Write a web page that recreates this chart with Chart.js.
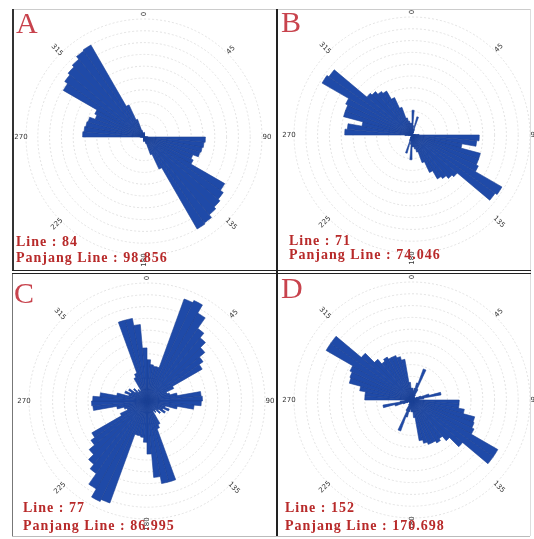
<!DOCTYPE html>
<html>
<head>
<meta charset="utf-8">
<script src="https://cdn.jsdelivr.net/npm/chart.js@4/dist/chart.umd.min.js"></script>
<style>
  html, body { margin: 0; padding: 0; background: #fff; overflow: hidden; }
  #page { position: relative; width: 534px; height: 539px; overflow: hidden; }
  canvas { position: absolute; }
  .line { position: absolute; }
  .letter { position: absolute; font-family: "Liberation Serif", serif; font-size: 30px; line-height: 30px; color: #c8434d; }
  .info { position: absolute; font-family: "Liberation Serif", serif; font-weight: bold; font-size: 14px; line-height: 14px; letter-spacing: 1px; color: #b82a2a; white-space: nowrap; }
</style>
</head>
<body>
<div id="page">
  <canvas id="roseA" width="270" height="270" style="left:9px;top:2px"></canvas>
  <canvas id="roseB" width="270" height="270" style="left:277px;top:0px"></canvas>
  <canvas id="roseC" width="270" height="270" style="left:12px;top:266px"></canvas>
  <canvas id="roseD" width="270" height="270" style="left:277px;top:265px"></canvas>

  <!-- frame -->
  <div class="line" style="left:12px;top:9px;width:518px;height:1px;background:#ccc"></div>
  <div class="line" style="left:530px;top:9px;width:1px;height:527px;background:#ddd"></div>
  <div class="line" style="left:12px;top:536px;width:518px;height:1px;background:#bbb"></div>
  <div class="line" style="left:12px;top:9px;width:2px;height:262px;background:#333"></div>
  <div class="line" style="left:12px;top:273px;width:1px;height:263px;background:#777"></div>
  <div class="line" style="left:276px;top:9px;width:2px;height:527px;background:#222"></div>
  <div class="line" style="left:12px;top:270px;width:519px;height:1px;background:#222"></div>
  <div class="line" style="left:12px;top:273px;width:519px;height:1px;background:#222"></div>

  <div class="letter" style="left:16px;top:8px">A</div>
  <div class="letter" style="left:281px;top:7px">B</div>
  <div class="letter" style="left:14px;top:278px">C</div>
  <div class="letter" style="left:281px;top:273px">D</div>

  <div class="info" style="left:16px;top:235px">Line : 84</div>
  <div class="info" style="left:16px;top:251px">Panjang Line : 98.856</div>
  <div class="info" style="left:289px;top:234px">Line : 71</div>
  <div class="info" style="left:289px;top:248px">Panjang Line : 74.046</div>
  <div class="info" style="left:23px;top:501px">Line : 77</div>
  <div class="info" style="left:23px;top:519px">Panjang Line : 86.995</div>
  <div class="info" style="left:285px;top:501px">Line : 152</div>
  <div class="info" style="left:285px;top:519px">Panjang Line : 170.698</div>
</div>

<script>
// 5 degree bins from 0 to 180; the data is axial so each bin is drawn
// again on the opposite side (180-360)
const halfA = [0.4, 0.3, 0.2, 0, 0, 0, 0, 0, 0, 0, 0, 0, 0, 0, 0, 0, 0, 0.3,
               5.2, 5.1, 5.0, 4.9, 4.4, 4.6, 7.9, 8.2, 8.4, 8.6, 8.9, 9.0,
               3.0, 1.6, 0.6, 0.4, 0.3, 0.3];
const halfB = [2.1, 0.8, 0.5, 1.6, 0.5, 0.3, 0, 0, 0, 0, 0, 0, 0, 0, 0, 0, 0.3, 0.6,
               5.7, 5.5, 4.3, 6.0, 6.0, 6.2, 8.8, 8.6, 5.0, 4.8, 4.5, 4.3,
               3.5, 2.5, 1.5, 1.2, 1.0, 1.0];
const halfC = [3.5, 3.1, 3.0, 3.0, 9.2, 9.4, 8.6, 7.5, 7.0, 6.4, 5.8, 5.4,
               2.5, 1.8, 2.0, 2.6, 4.6, 4.7, 4.6, 4.0, 2.6, 1.6, 2.0, 1.5,
               1.8, 1.2, 1.5, 1.0, 1.2, 1.0, 2.2, 2.5, 7.1, 7.1, 6.5, 4.5];
const halfD = [1.0, 0.8, 1.0, 1.5, 2.8, 1.0, 0.5, 0.3, 0.3, 0.3, 0.3, 0.3, 0.5, 0.8, 1.5, 2.5, 1.0, 0.6,
               4.0, 4.0, 4.5, 5.5, 5.6, 5.8, 8.4, 8.4, 5.6, 4.5, 4.0, 4.2,
               4.0, 4.0, 3.8, 3.5, 1.5, 1.0];

const compassAngles = [0, 45, 90, 135, 180, 225, 270, 315];
const compassLabels = ["0", "45", "90", "135", "180", "225", "270", "315"];

const barColor = "#1f4aa8";
const edgeColor = "#1b3f93";

// bin labels, 0-360 in 5 degree steps
const binLabels = [];
for (let d = 0; d < 360; d += 5) binLabels.push(d + "°");

// draws the small direction labels round the outer ring
const compassPlugin = {
    id: "compass",
    afterDraw(chart) {
        const s = chart.scales.r;
        const ctx = chart.ctx;
        ctx.save();
        ctx.font = "7px 'DejaVu Sans'";
        ctx.fillStyle = "#333";
        ctx.textAlign = "center";
        ctx.textBaseline = "middle";
        compassAngles.forEach((deg, i) => {
            const a = deg * Math.PI / 180;
            const r = s.drawingArea + 5;
            const x = s.xCenter + Math.sin(a) * r;
            const y = s.yCenter - Math.cos(a) * r;
            const rot = deg < 180 ? deg - 90 : deg - 270;
            ctx.save();
            ctx.translate(x, y);
            ctx.rotate(rot * Math.PI / 180);
            ctx.fillText(compassLabels[i], 0, 0);
            ctx.restore();
        });
        ctx.restore();
    }
};

function makeRose(id, half) {
    const values = half.concat(half);
    const ctx = document.getElementById(id).getContext("2d");
    return new Chart(ctx, {
        type: "polarArea",
        data: {
            labels: binLabels,
            datasets: [{
                data: values,
                backgroundColor: barColor,
                borderColor: edgeColor,
                borderWidth: 0.6
            }]
        },
        options: {
            responsive: false,
            animation: false,
            layout: { padding: 17 },
            plugins: {
                legend: { display: false },
                tooltip: { enabled: false }
            },
            scales: {
                r: {
                    min: 0,
                    max: 10,
                    startAngle: 0,
                    ticks: { display: false, stepSize: 1 },
                    grid: { color: "#e2e2e2", lineWidth: 1 },
                    border: { dash: [2, 2] },
                    angleLines: { display: false },
                    pointLabels: { display: false }
                }
            }
        },
        plugins: [compassPlugin]
    });
}

makeRose("roseA", halfA);
makeRose("roseB", halfB);
makeRose("roseC", halfC);
makeRose("roseD", halfD);
</script>
</body>
</html>
